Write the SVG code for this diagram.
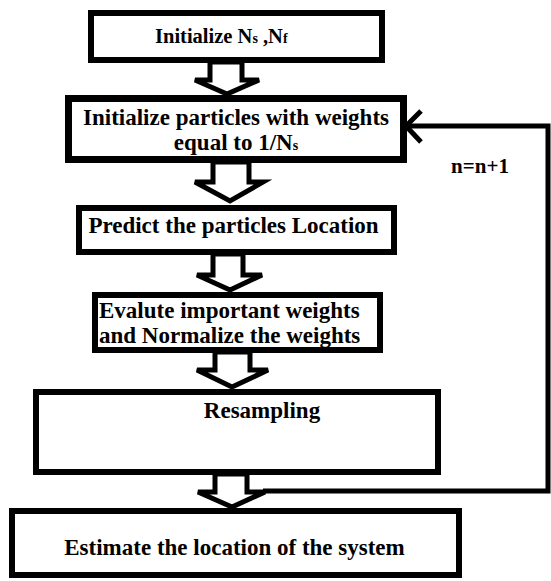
<svg xmlns="http://www.w3.org/2000/svg" width="551" height="581" viewBox="0 0 551 581">
<style>
.box{fill:#fff;stroke:#000;stroke-width:6}
.t{font-family:"Liberation Serif","Times New Roman",serif;font-weight:bold;font-size:23px;fill:#000}
.blk{fill:#fff;stroke:#000;stroke-width:5;stroke-linejoin:miter}
.ln{fill:none;stroke:#000;stroke-width:5}
</style>
<rect width="551" height="581" fill="#fff"/>
<g id="connectors">
<path class="ln" d="M263,491 H548 V126 H407"/>
<path class="ln" d="M421,111 L406,126 L421,142"/>
<polygon class="blk" points="210,62 210,80 195,80 227,94 259,80 242,80 242,62"/>
<polygon class="blk" points="213,162 213,182 195,182 230,201 263,182 249,182 249,162"/>
<polygon class="blk" points="213,254 213,275 197,275 230,290 262,275 243,275 243,254"/>
<polygon class="blk" points="215,352 215,370 197,370 232,387 268,370 250,370 250,352"/>
<polygon class="blk" points="215,474 215,492 198,492 232,507 265,492 247,492 247,474"/>
</g>
<g id="n1">
<rect class="box" x="91" y="13" width="291" height="47"/>
<text class="t" x="155" y="43" style="font-size:20.5px">Initialize N<tspan style="font-size:14px">s</tspan>  ,N<tspan style="font-size:14px">f</tspan></text>
</g>
<g id="n2">
<rect class="box" x="68.5" y="98.5" width="335" height="61" style="stroke-width:7"/>
<text class="t" x="236" y="125" text-anchor="middle">Initialize particles with weights</text>
<text class="t" x="236" y="150" text-anchor="middle">equal to 1/N<tspan style="font-size:14px">s</tspan></text>
</g>
<g id="n3">
<rect class="box" x="79" y="208" width="315" height="44"/>
<text class="t" x="233.5" y="233" text-anchor="middle">Predict the particles Location</text>
</g>
<g id="n4">
<rect class="box" x="95" y="295" width="285" height="55"/>
<text class="t" x="99" y="318">Evalute important weights</text>
<text class="t" x="99" y="343">and Normalize the weights</text>
</g>
<g id="n5">
<rect class="box" x="36" y="392" width="402" height="80"/>
<text class="t" x="262" y="418" text-anchor="middle">Resampling</text>
</g>
<g id="n6">
<rect class="box" x="12" y="511" width="447" height="64"/>
<text class="t" x="234.5" y="555" text-anchor="middle">Estimate the location of the system</text>
</g>
<g id="label">
<text class="t" x="480" y="173" text-anchor="middle" style="font-size:21px">n=n+1</text>
</g>
</svg>
